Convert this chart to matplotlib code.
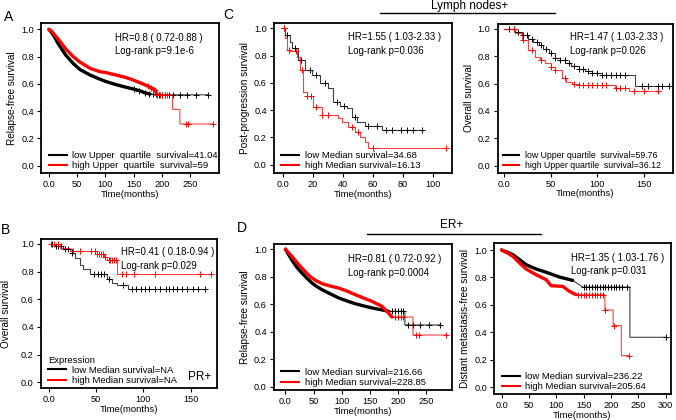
import numpy as np
import matplotlib
matplotlib.use('Agg')
import matplotlib.pyplot as plt
from matplotlib.lines import Line2D

plt.rcParams['font.family'] = ['Liberation Sans', 'DejaVu Sans']

# ---- data ----
# A: relapse-free survival (all)
a_low_t = [0, 5, 10, 15, 20, 30, 43, 55, 73, 90, 102, 117, 132, 147, 161, 170, 179, 200, 283]
a_low_s = [1.0, 0.975, 0.945, 0.905, 0.872, 0.81, 0.75, 0.705, 0.665, 0.635, 0.616, 0.597, 0.58, 0.565, 0.55, 0.535, 0.525, 0.52, 0.52]
a_high_t = [0, 5, 10, 20, 30, 43, 55, 73, 90, 102, 117, 132, 147, 161, 175, 188, 192, 219, 219, 232, 232, 291]
a_high_s = [1.0, 0.985, 0.96, 0.91, 0.855, 0.80, 0.76, 0.714, 0.69, 0.682, 0.667, 0.652, 0.632, 0.609, 0.585, 0.555, 0.52, 0.52, 0.413, 0.413, 0.306, 0.306]
a_low_cens = [150, 160, 170, 178, 185, 190, 195, 200, 205, 212, 220, 232, 245, 260, 282]
a_high_cens = [175, 180, 185, 188, 192, 196, 200, 205, 210, 243, 247, 291]

# B: overall survival, PR+
b_low_t = [0, 6, 15, 24, 27.5, 33, 36.5, 43.4, 61, 66.4, 71.7, 84, 165]
b_low_s = [1.0, 0.984, 0.96, 0.936, 0.90, 0.85, 0.817, 0.78, 0.748, 0.72, 0.70, 0.676, 0.676]
b_high_t = [0, 12, 22, 50.6, 57.7, 61, 72.5, 173]
b_high_s = [1.0, 0.971, 0.947, 0.93, 0.906, 0.882, 0.786, 0.786]
b_low_cens = [3, 7, 10, 13, 17, 20, 24, 48, 52, 55, 58, 63, 78, 88, 92, 97, 102, 106, 112, 118,
              124, 127, 131, 136, 141, 146, 152, 158, 165]
b_high_cens = [2, 5, 9, 25, 33, 44, 49, 51, 53, 55, 57, 59, 63, 65, 67, 69, 71, 77, 82, 90, 112, 160, 172]

# C left: post-progression survival, lymph nodes+
cl_low_t = [0, 1.7, 5, 6.2, 10.6, 15, 19.5, 25, 30.5, 33.9, 38.3, 42.7, 46, 49.3, 54.9, 65.9, 93.6]
cl_low_s = [1.0, 0.95, 0.90, 0.853, 0.768, 0.694, 0.657, 0.597, 0.56, 0.462, 0.43, 0.413, 0.352, 0.315, 0.284, 0.254, 0.254]
cl_high_t = [0, 1.7, 2.9, 5, 9.5, 11.7, 13.9, 16, 20.6, 26, 37, 39.4, 43.8, 48.2, 51.5, 54.9, 57, 109]
cl_high_s = [1.0, 0.93, 0.841, 0.83, 0.79, 0.694, 0.535, 0.50, 0.425, 0.364, 0.34, 0.315, 0.28, 0.242, 0.205, 0.169, 0.125, 0.125]
cl_low_cens = [1, 3, 8, 12, 18, 22, 28, 36, 41, 48, 57, 63, 69, 73, 79, 83, 87, 93]
cl_high_cens = [1, 4, 9, 13, 16, 19, 22, 26, 30, 46, 50, 60, 109]

# C right: overall survival, lymph nodes+
cr_low_t = [0, 11.8, 19, 26, 31, 37, 42, 47.7, 55, 60, 65.7, 72, 80, 87, 94.4, 105, 141, 177]
cr_low_s = [1.0, 0.98, 0.955, 0.93, 0.905, 0.883, 0.85, 0.822, 0.79, 0.77, 0.753, 0.73, 0.705, 0.69, 0.68, 0.664, 0.583, 0.583]
cr_high_t = [0, 11.8, 19, 26, 33.4, 38, 44, 50, 55, 62, 67, 73, 80, 119, 134, 166]
cr_high_s = [1.0, 0.97, 0.92, 0.846, 0.797, 0.77, 0.749, 0.725, 0.70, 0.639, 0.615, 0.598, 0.59, 0.566, 0.549, 0.549]
cr_low_cens = [5, 10, 15, 20, 25, 30, 35, 40, 45, 50, 55, 60, 65, 70, 75, 80, 85, 90, 95, 100,
               105, 110, 115, 120, 125, 130, 148, 155, 165, 170, 177]
cr_high_cens = [10, 20, 30, 40, 50, 55, 65, 75, 80, 85, 90, 95, 100, 105, 110, 120, 125, 130, 140, 150, 166]

# D left: relapse-free survival, ER+
dl_low_t = [0, 11, 20, 29, 38, 47, 56, 65, 80, 94.5, 110, 124, 139, 154, 170, 183.5, 200, 212.6, 212.6, 275.6]
dl_low_s = [1.0, 0.924, 0.87, 0.828, 0.79, 0.755, 0.728, 0.706, 0.675, 0.646, 0.623, 0.604, 0.588, 0.573, 0.56, 0.549, 0.548, 0.548, 0.449, 0.449]
dl_high_t = [0, 11, 20, 29, 38, 47, 56, 65, 80, 94.5, 110, 124, 139, 154, 171.7, 183.5, 189.5, 227, 227, 285]
dl_high_s = [1.0, 0.95, 0.905, 0.864, 0.825, 0.791, 0.768, 0.75, 0.732, 0.718, 0.695, 0.67, 0.645, 0.621, 0.585, 0.536, 0.507, 0.507, 0.376, 0.376]
dl_low_cens = [190, 195, 200, 205, 210, 218, 228, 240, 255, 275]
dl_high_cens = [195, 200, 205, 210, 232, 237, 285]

# D right: distant metastasis-free survival, ER+
dr_low_t = [0, 10, 20.7, 33, 45, 63, 81.5, 106, 130, 148.6, 234.6, 234.6, 300]
dr_low_s = [1.0, 0.985, 0.966, 0.93, 0.893, 0.862, 0.838, 0.803, 0.779, 0.73, 0.73, 0.364, 0.364]
dr_high_t = [0, 10, 20.7, 33, 45, 63, 81.5, 90.7, 112, 124, 136, 189, 189, 204, 204, 219, 219, 233]
dr_high_s = [1.0, 0.98, 0.954, 0.905, 0.862, 0.82, 0.784, 0.74, 0.735, 0.699, 0.675, 0.675, 0.563, 0.563, 0.449, 0.449, 0.23, 0.23]
dr_low_cens = [150, 155, 160, 165, 170, 175, 180, 185, 190, 195, 200, 205, 210, 215, 220, 230, 300]
dr_high_cens = [140, 145, 150, 155, 160, 165, 170, 175, 180, 185, 190, 205, 233]


def draw_curve(ax, t, s, cens, color, steps, dense_until=None):
    t = np.array(t, dtype=float)
    s = np.array(s, dtype=float)
    ds = 'steps-post' if steps else 'default'
    ax.plot(t, s, color=color, lw=0.8, drawstyle=ds, alpha=0.75)
    if dense_until is not None:
        m = t <= dense_until
        ax.plot(t[m], s[m], color=color, lw=2.4, drawstyle=ds, solid_capstyle='round')
    c = np.array(cens, dtype=float)
    if steps:
        idx = np.searchsorted(t, c, side='right') - 1
        cy = s[np.clip(idx, 0, len(s) - 1)]
    else:
        cy = np.interp(c, t, s)
    ax.plot(c, cy, ls='none', marker='+', ms=3.8, mew=0.7, color=color)


def setup(ax, xlim, ylim, xticks, ylabel, hr, hrpos, ylpad=3):
    ax.set_xlim(xlim)
    ax.set_ylim(ylim)
    ax.set_xticks(xticks)
    ax.set_xticklabels(['0.0'] + [str(v) for v in xticks[1:]])
    ax.set_yticks([0, 0.2, 0.4, 0.6, 0.8, 1.0])
    ax.set_yticklabels(['0.0', '0.2', '0.4', '0.6', '0.8', '1.0'])
    ax.tick_params(direction='out', length=3, width=0.8, labelsize=6.6, pad=2)
    for sp in ax.spines.values():
        sp.set_linewidth(1.3)
    ax.set_xlabel('Time(months)', fontsize=6.8, labelpad=0.5)
    ax.set_ylabel(ylabel, fontsize=7.2, labelpad=ylpad)
    ax.text(hrpos[0], hrpos[1], hr, transform=ax.transAxes, fontsize=6.9,
            va='top', ha='left', linespacing=1.45)


def legend(ax, labels, title=None, anchor=(0.0, -0.03), size=6.8):
    hs = [Line2D([0], [0], color='black', lw=1.5), Line2D([0], [0], color='red', lw=1.5)]
    lg = ax.legend(hs, labels, loc='lower left', bbox_to_anchor=anchor, frameon=False,
                   fontsize=size, handlelength=1.9, handletextpad=0.6, labelspacing=0.12,
                   borderpad=0.3, title=title, title_fontsize=size, alignment='left')
    return lg


fig = plt.figure(figsize=(6.76, 4.2), dpi=100)

axA = fig.add_axes([0.0607, 0.588, 0.263, 0.357])
axB = fig.add_axes([0.0602, 0.0762, 0.261, 0.355])
axCL = fig.add_axes([0.405, 0.588, 0.264, 0.358])
axCR = fig.add_axes([0.736, 0.589, 0.260, 0.354])
axDL = fig.add_axes([0.405, 0.0714, 0.263, 0.347])
axDR = fig.add_axes([0.731, 0.062, 0.261, 0.360])

# A
draw_curve(axA, a_low_t, a_low_s, a_low_cens, 'black', False, dense_until=180)
draw_curve(axA, a_high_t, a_high_s, a_high_cens, 'red', False, dense_until=192)
setup(axA, (-14, 301), (-0.054, 1.046), [0, 50, 100, 150, 200, 250], 'Relapse-free survival',
      'HR=0.8 ( 0.72-0.88 )\nLog-rank p=9.1e-6', (0.416, 0.935))
legend(axA, ['low Upper  quartile  survival=41.04', 'high Upper  quartile  survival=59'])

# B
draw_curve(axB, b_low_t, b_low_s, b_low_cens, 'black', True)
draw_curve(axB, b_high_t, b_high_s, b_high_cens, 'red', True)
setup(axB, (-8.8, 178), (-0.041, 1.036), [0, 50, 100, 150], 'Overall survival',
      'HR=0.41 ( 0.18-0.94 )\nLog-rank p=0.029', (0.454, 0.945), ylpad=7)
legend(axB, ['low Median survival=NA', 'high Median survival=NA'], title='Expression')
axB.text(0.90, 0.075, 'PR+', transform=axB.transAxes, fontsize=8.5, ha='center', va='center')

# C left
draw_curve(axCL, cl_low_t, cl_low_s, cl_low_cens, 'black', True)
draw_curve(axCL, cl_high_t, cl_high_s, cl_high_cens, 'red', True)
setup(axCL, (-5.8, 112.9), (-0.061, 1.041), [0, 20, 40, 60, 80, 100], 'Post-progression survival',
      'HR=1.55 ( 1.03-2.33 )\nLog-rank p=0.036', (0.416, 0.935))
legend(axCL, ['low Median survival=34.68', 'high Median survival=16.13'])

# C right
draw_curve(axCR, cr_low_t, cr_low_s, cr_low_cens, 'black', True)
draw_curve(axCR, cr_high_t, cr_high_s, cr_high_cens, 'red', True)
setup(axCR, (-7.2, 182), (-0.051, 1.037), [0, 50, 100, 150], 'Overall survival',
      'HR=1.47 ( 1.03-2.33 )\nLog-rank p=0.026', (0.413, 0.945))
legend(axCR, ['low Upper quartile  survival=59.76', 'high Upper quartile  survival=36.12'],
       anchor=(-0.01, -0.03), size=6.3)

# D left
draw_curve(axDL, dl_low_t, dl_low_s, dl_low_cens, 'black', False, dense_until=185)
draw_curve(axDL, dl_high_t, dl_high_s, dl_high_cens, 'red', False, dense_until=190)
setup(axDL, (-20.8, 295.8), (-0.024, 1.036), [0, 50, 100, 150, 200, 250], 'Relapse-free survival',
      'HR=0.81 ( 0.72-0.92 )\nLog-rank p=0.0004', (0.415, 0.932))
legend(axDL, ['low Median survival=216.66', 'high Median survival=228.85'])

# D right
draw_curve(axDR, dr_low_t, dr_low_s, dr_low_cens, 'black', False, dense_until=148)
draw_curve(axDR, dr_high_t, dr_high_s, dr_high_cens, 'red', False, dense_until=136)
setup(axDR, (-13.5, 309), (-0.049, 1.053), [0, 50, 100, 150, 200, 250, 300],
      'Distant metastasis-free survival',
      'HR=1.35 ( 1.03-1.76 )\nLog-rank p=0.031', (0.433, 0.935))
legend(axDR, ['low Median survival=236.22', 'high Median survival=205.64'])

# panel letters and group headers
fig.text(0.013, 0.96, 'A', fontsize=10, ha='center', va='center')
fig.text(0.008, 0.452, 'B', fontsize=10, ha='center', va='center')
fig.text(0.337, 0.964, 'C', fontsize=10, ha='center', va='center')
fig.text(0.358, 0.457, 'D', fontsize=10, ha='center', va='center')

fig.text(470 / 676, 0.985, 'Lymph nodes+', fontsize=8.5, ha='center', va='center')
fig.add_artist(Line2D([380 / 676, 555 / 676], [0.968, 0.968], color='black', lw=1.0))
fig.text(452 / 676, 0.464, 'ER+', fontsize=8.5, ha='center', va='center')
fig.add_artist(Line2D([367 / 676, 541 / 676], [0.443, 0.443], color='black', lw=1.0))

fig.savefig('out.png', dpi=100)
